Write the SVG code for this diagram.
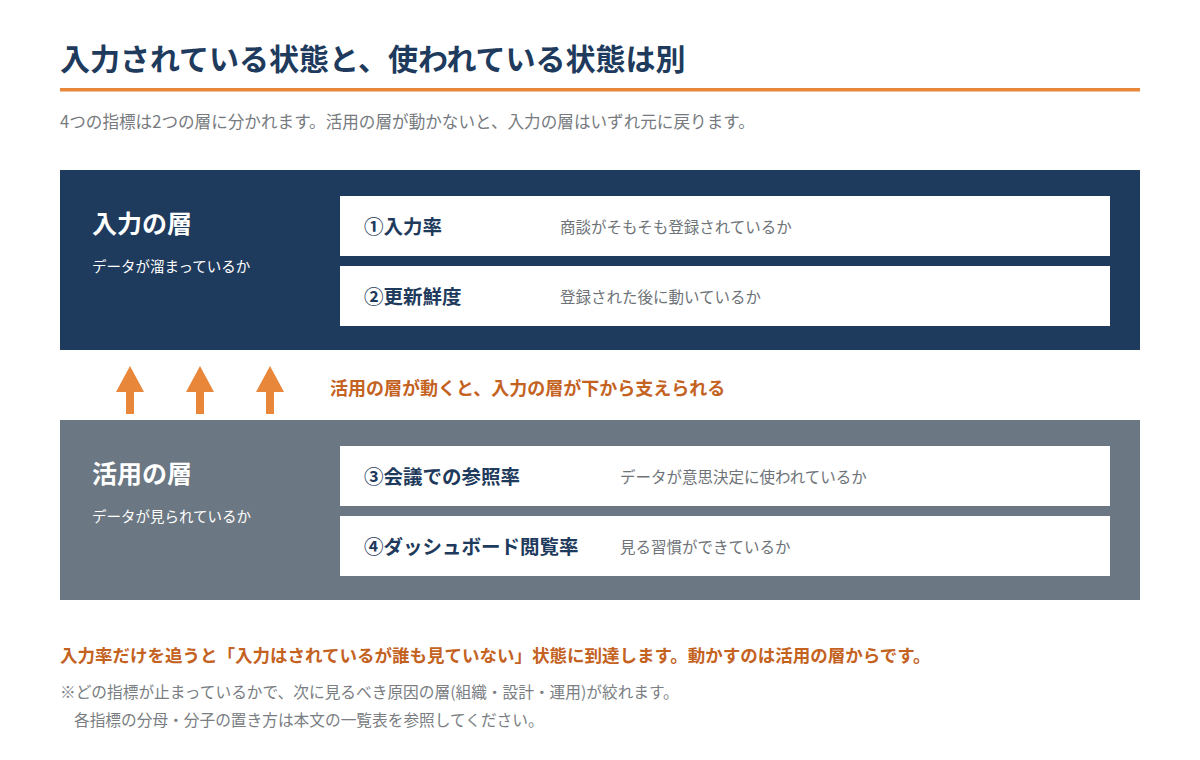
<svg xmlns="http://www.w3.org/2000/svg" width="1200" height="760" viewBox="0 0 1200 760">
<style>
text{font-family:"Noto Sans CJK JP","Noto Sans",sans-serif}
.title{font-size:30px;font-weight:700;fill:#1e3a5c}
.sub{font-size:16.6px;fill:#777b80}
.lt{font-size:25px;font-weight:700;fill:#ffffff}
.ls{font-size:14.5px;fill:#ffffff}
.row{fill:#ffffff}
.rt{font-size:19.5px;font-weight:700;fill:#1e3a5c}
.rd{font-size:15.5px;fill:#6e7378}
.acc{font-weight:700;fill:#c4621f}
.note{font-size:15.7px;fill:#7a7e83}
.arrow{fill:#e8863a}
</style>
<rect width="1200" height="760" fill="#ffffff"/>
<g id="header">
<text class="title" x="60" y="70">入力されている状態と、使われている状態は別</text>
<rect x="60" y="88" width="1080" height="3.5" fill="#e8863a"/>
<text class="sub" x="60" y="128">4つの指標は2つの層に分かれます。活用の層が動かないと、入力の層はいずれ元に戻ります。</text>
</g>
<g id="input-layer">
<rect x="60" y="170" width="1080" height="180" fill="#1e3a5c"/>
<text class="lt" x="92" y="233">入力の層</text>
<text class="ls" x="92" y="272">データが溜まっているか</text>
</g>
<g id="metric-1">
<rect class="row" x="340" y="196" width="770" height="60"/>
<text class="rt" x="364" y="234">①入力率</text>
<text class="rd" x="560" y="233">商談がそもそも登録されているか</text>
</g>
<g id="metric-2">
<rect class="row" x="340" y="266" width="770" height="60"/>
<text class="rt" x="364" y="304">②更新鮮度</text>
<text class="rd" x="560" y="303">登録された後に動いているか</text>
</g>
<g id="connectors">
<path class="arrow" d="M130 366 L144 392 L134 392 L134 414 L126 414 L126 392 L116 392 Z"/>
<path class="arrow" d="M200 366 L214 392 L204 392 L204 414 L196 414 L196 392 L186 392 Z"/>
<path class="arrow" d="M270 366 L284 392 L274 392 L274 414 L266 414 L266 392 L256 392 Z"/>
<text class="acc" x="330" y="395" font-size="18">活用の層が動くと、入力の層が下から支えられる</text>
</g>
<g id="usage-layer">
<rect x="60" y="420" width="1080" height="180" fill="#6b7782"/>
<text class="lt" x="92" y="483">活用の層</text>
<text class="ls" x="92" y="522">データが見られているか</text>
</g>
<g id="metric-3">
<rect class="row" x="340" y="446" width="770" height="60"/>
<text class="rt" x="364" y="484">③会議での参照率</text>
<text class="rd" x="620" y="483">データが意思決定に使われているか</text>
</g>
<g id="metric-4">
<rect class="row" x="340" y="516" width="770" height="60"/>
<text class="rt" x="364" y="554">④ダッシュボード閲覧率</text>
<text class="rd" x="620" y="553">見る習慣ができているか</text>
</g>
<g id="footer">
<text class="acc" x="60" y="662" font-size="17.5">入力率だけを追うと「入力はされているが誰も見ていない」状態に到達します。動かすのは活用の層からです。</text>
<text class="note" x="60" y="698">※どの指標が止まっているかで、次に見るべき原因の層(組織・設計・運用)が絞れます。</text>
<text class="note" x="74" y="726">各指標の分母・分子の置き方は本文の一覧表を参照してください。</text>
</g>
</svg>
